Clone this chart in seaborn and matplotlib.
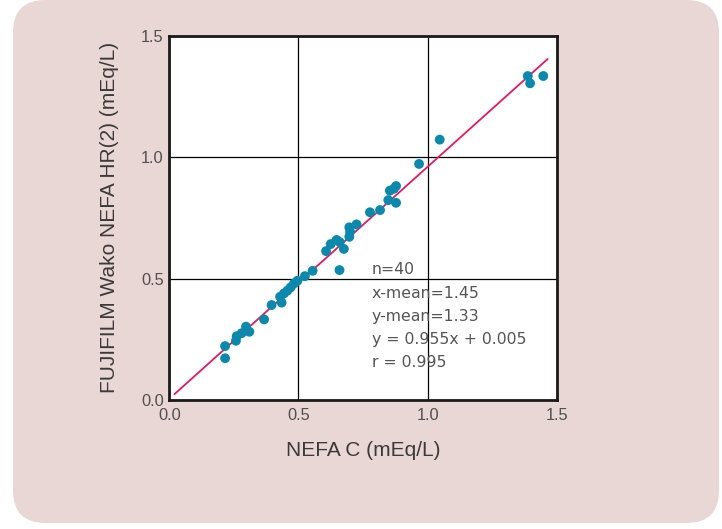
import matplotlib
matplotlib.use("Agg")
import matplotlib.pyplot as plt
from matplotlib.patches import FancyBboxPatch
import seaborn as sns
import pandas as pd

# ---- data ----
nefa_c = [0.216, 0.216, 0.258, 0.261, 0.280, 0.297, 0.310, 0.367, 0.396, 0.435,
          0.429, 0.444, 0.457, 0.470, 0.483, 0.496, 0.525, 0.555, 0.659, 0.607,
          0.625, 0.648, 0.660, 0.676, 0.697, 0.697, 0.700, 0.725, 0.777, 0.816,
          0.848, 0.878, 0.854, 0.878, 0.870, 0.967, 1.047, 1.388, 1.397, 1.448]
nefa_hr2 = [0.172, 0.222, 0.244, 0.263, 0.275, 0.302, 0.281, 0.332, 0.391, 0.401,
            0.425, 0.439, 0.450, 0.464, 0.480, 0.491, 0.510, 0.532, 0.535, 0.613,
            0.642, 0.659, 0.650, 0.622, 0.672, 0.711, 0.693, 0.723, 0.773, 0.782,
            0.823, 0.812, 0.862, 0.881, 0.870, 0.972, 1.072, 1.334, 1.304, 1.334]
slope = 0.955
intercept = 0.005
fit_x_range = [0.02, 1.465]
tick_values = [0.0, 0.5, 1.0, 1.5]
tick_labels = ["0.0", "0.5", "1.0", "1.5"]
stats_lines = ["n=40", "x-mean=1.45", "y-mean=1.33", "y = 0.955x + 0.005", "r = 0.995"]
x_label = "NEFA C (mEq/L)"
y_label = "FUJIFILM Wako NEFA HR(2) (mEq/L)"

df = pd.DataFrame({"x": nefa_c, "y": nefa_hr2})
fit_df = pd.DataFrame({"x": fit_x_range,
                       "y": [slope * v + intercept for v in fit_x_range]})

sns.set_theme(style="white")
plt.rcParams["font.family"] = ["Liberation Sans", "DejaVu Sans"]

fig = plt.figure(figsize=(7.22, 5.29), dpi=100)
fig.patch.set_facecolor("white")
bg = FancyBboxPatch((13 / 722, 6 / 529), (706 / 722), (523 / 529),
                    boxstyle="round,pad=0,rounding_size=0.045",
                    transform=fig.transFigure, facecolor="#e8d7d4",
                    edgecolor="none", zorder=-10, mutation_aspect=722 / 529)
fig.patches.append(bg)

ax = fig.add_axes([169.3 / 722, 1 - 400 / 529, (556.7 - 169.3) / 722, (400 - 35.7) / 529])
ax.set_facecolor("white")

sns.lineplot(data=fit_df, x="x", y="y", ax=ax, color="#e3195c", linewidth=1.3, zorder=3)
sns.scatterplot(data=df, x="x", y="y", ax=ax, color="#0b88ab", s=50,
                edgecolor="none", linewidth=0, zorder=4)

ax.set_xlim(0, 1.5)
ax.set_ylim(0, 1.5)
ax.set_xticks(tick_values)
ax.set_xticklabels(tick_labels)
ax.set_yticks(tick_values)
ax.set_yticklabels(tick_labels)
ax.tick_params(axis="both", length=0, labelsize=11.8, labelcolor="#505050")
ax.tick_params(axis="x", pad=5.5)
ax.tick_params(axis="y", pad=4)
ax.grid(True, color="black", linewidth=0.9)
ax.set_axisbelow(True)
for sp in ax.spines.values():
    sp.set_visible(True)
    sp.set_color("#1a1a1a")
    sp.set_linewidth(2.0)

ax.set_xlabel(x_label, fontsize=15, color="#3a3a3a", labelpad=13)
ax.set_ylabel(y_label, fontsize=15, color="#3a3a3a", labelpad=16)

y0 = 270
for i, line in enumerate(stats_lines):
    fig.text(372 / 722, 1 - (y0 + i * 23.2) / 529, line, fontsize=11.3,
             family=["DejaVu Sans"], color="#555555", va="center", ha="left")

fig.savefig("out.png", dpi=100, facecolor=fig.get_facecolor())
